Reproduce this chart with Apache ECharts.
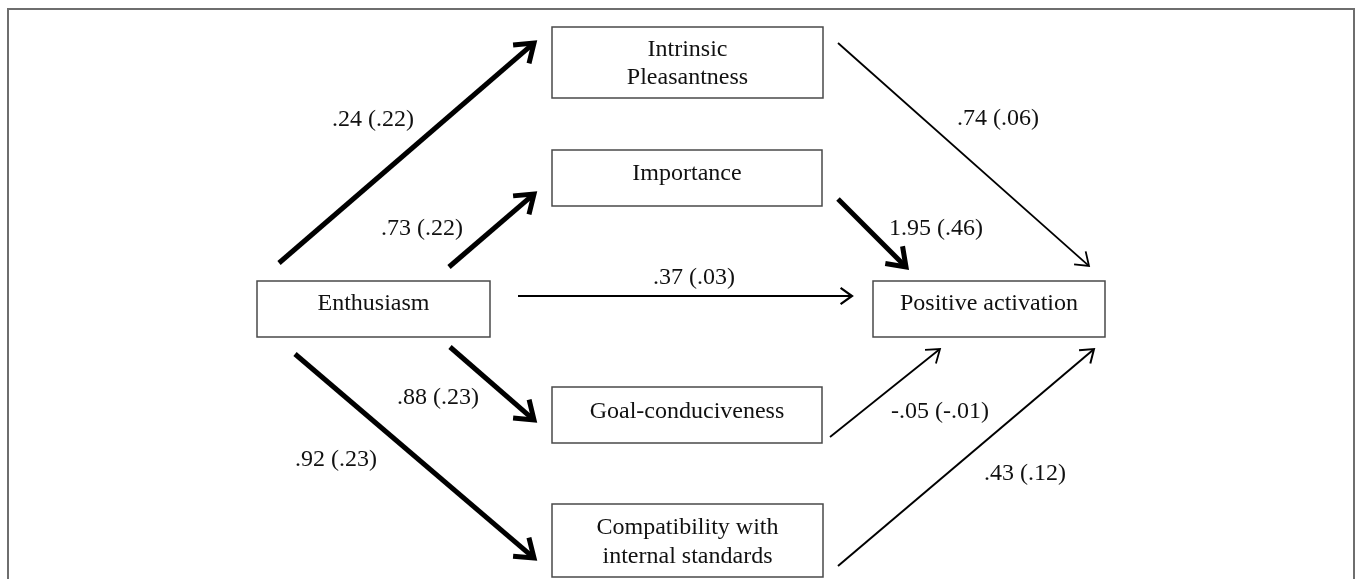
<!DOCTYPE html>
<html>
<head>
<meta charset="utf-8">
<script src="https://cdn.jsdelivr.net/npm/echarts@6/dist/echarts.min.js"></script>
<style>
html,body{margin:0;padding:0;background:#fff;}
#chart{width:1357px;height:579px;}
</style>
</head>
<body>
<div id="chart"></div>
<script>
// ---- data ----
const nodeNames = ['Enthusiasm', 'Intrinsic\nPleasantness', 'Importance', 'Goal-conduciveness', 'Compatibility with\ninternal standards', 'Positive activation'];
const pathFrom = [0, 0, 0, 0, 0, 1, 2, 3, 4];
const pathTo   = [1, 2, 5, 3, 4, 5, 5, 5, 5];
const pathCoef = ['.24', '.73', '.37', '.88', '.92', '.74', '1.95', '-.05', '.43'];
const pathSE   = ['.22', '.22', '.03', '.23', '.23', '.06', '.46', '-.01', '.12'];

// ---- layout (positions & styles) ----
const W = 1357, H = 579;
const FONT = '"Liberation Serif", "Times New Roman", serif';
const TEXT_DY = 2;
const boxLayout = [
  {x0: 257, y0: 281, x1: 490, y1: 337, ty: 302, lh: 28},
  {x0: 552, y0: 27,  x1: 823, y1: 98,  ty: 62,  lh: 28},
  {x0: 552, y0: 150, x1: 822, y1: 206, ty: 172, lh: 28},
  {x0: 552, y0: 387, x1: 822, y1: 443, ty: 410, lh: 28},
  {x0: 552, y0: 504, x1: 823, y1: 577, ty: 540, lh: 29},
  {x0: 873, y0: 281, x1: 1105, y1: 337, ty: 302, lh: 28}
];
const arrowLayout = [
  {a: [279, 263], b: [534, 43],  w: 5,   head: 21},
  {a: [449, 267], b: [534, 194], w: 5,   head: 21},
  {a: [518, 296], b: [852, 296], w: 2.2, head: 14},
  {a: [450, 347], b: [534, 420], w: 5,   head: 21},
  {a: [295, 354], b: [534, 558], w: 5,   head: 21},
  {a: [838, 43],  b: [1089, 266], w: 1.8, head: 15},
  {a: [838, 199], b: [906, 267], w: 5,   head: 21},
  {a: [830, 437], b: [940, 349], w: 1.8, head: 15},
  {a: [838, 566], b: [1094, 349], w: 2,  head: 15}
];
const labelLayout = [
  [373, 118], [422, 227], [694, 276], [438, 396], [336, 458],
  [998, 117], [936, 227], [940, 410], [1025, 472]
];

const chart = echarts.init(document.getElementById('chart'), null, {renderer: 'canvas'});

const boxData = nodeNames.map((n, i) => [i]);
const pathData = pathCoef.map((c, i) => [i, pathFrom[i], pathTo[i]]);

function renderBox(params, api) {
  const i = api.value(0);
  const L = boxLayout[i];
  const p0 = api.coord([L.x0, L.y0]);
  const p1 = api.coord([L.x1, L.y1]);
  const tc = api.coord([(L.x0 + L.x1) / 2, L.ty + TEXT_DY]);
  return {
    type: 'group',
    children: [
      {type: 'rect', shape: {x: p0[0], y: p0[1], width: p1[0] - p0[0], height: p1[1] - p0[1]},
       style: {fill: '#fff', stroke: '#4a4a4a', lineWidth: 1.5}},
      {type: 'text', x: tc[0], y: tc[1],
       style: {text: nodeNames[i], font: '24px ' + FONT, fill: '#111', align: 'center', verticalAlign: 'middle', lineHeight: L.lh}}
    ]
  };
}

function renderArrow(params, api) {
  const i = api.value(0);
  const L = arrowLayout[i];
  const a = api.coord(L.a), b = api.coord(L.b);
  const ang = Math.atan2(b[1] - a[1], b[0] - a[0]);
  const spread = 0.62;
  const h = L.head;
  const back = L.w / 2;
  const tip = [b[0], b[1]];
  const l1 = [tip[0] - h * Math.cos(ang - spread), tip[1] - h * Math.sin(ang - spread)];
  const l2 = [tip[0] - h * Math.cos(ang + spread), tip[1] - h * Math.sin(ang + spread)];
  const end = [b[0] - back * Math.cos(ang), b[1] - back * Math.sin(ang)];
  return {
    type: 'group',
    children: [
      {type: 'line', shape: {x1: a[0], y1: a[1], x2: end[0], y2: end[1]},
       style: {stroke: '#000', lineWidth: L.w, lineCap: 'butt'}},
      {type: 'polyline', shape: {points: [l1, tip, l2]},
       style: {stroke: '#000', fill: null, lineWidth: L.w, lineJoin: 'miter', miterLimit: 10, lineCap: 'butt'}}
    ]
  };
}

function renderLabel(params, api) {
  const i = api.value(0);
  const p = api.coord([labelLayout[i][0], labelLayout[i][1] + TEXT_DY]);
  return {
    type: 'text', x: p[0], y: p[1],
    style: {text: pathCoef[i] + ' (' + pathSE[i] + ')', font: '24px ' + FONT, fill: '#111', align: 'center', verticalAlign: 'middle'}
  };
}

chart.setOption({
  animation: false,
  backgroundColor: '#fff',
  grid: {left: 0, right: 0, top: 0, bottom: 0},
  xAxis: {type: 'value', min: 0, max: W, show: false},
  yAxis: {type: 'value', min: 0, max: H, inverse: true, show: false},
  graphic: [
    {type: 'rect', shape: {x: 8, y: 9, width: 1346, height: 620}, style: {fill: null, stroke: '#6e6e6e', lineWidth: 2}, silent: true, z: -1}
  ],
  series: [
    {type: 'custom', name: 'paths', renderItem: renderArrow, data: pathData, silent: true, z: 2},
    {type: 'custom', name: 'nodes', renderItem: renderBox, data: boxData, silent: true, z: 3},
    {type: 'custom', name: 'labels', renderItem: renderLabel, data: pathData, silent: true, z: 4}
  ]
});
</script>
</body>
</html>
